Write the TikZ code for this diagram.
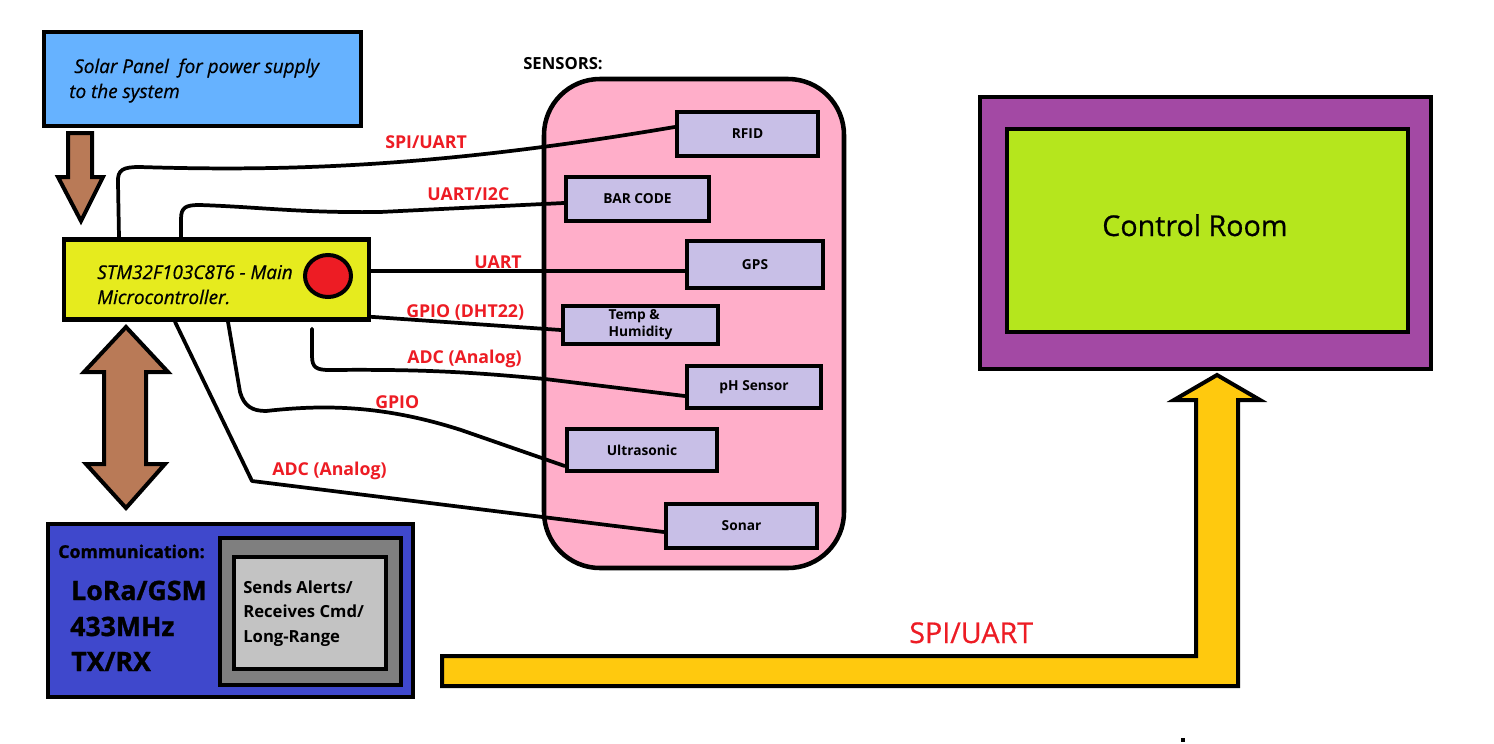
\documentclass[tikz,border=0pt]{standalone}
\usepackage{fontspec}
\setmainfont{Open Sans}
\newfontfamily\medfont[FakeBold=0.6]{Open Sans}
\newfontfamily\heavyfont[FakeBold=1.2]{Open Sans}
\usetikzlibrary{shapes.geometric}
\definecolor{solarblue}{RGB}{102,178,255}
\definecolor{brownarrow}{RGB}{185,122,87}
\definecolor{mcuyellow}{RGB}{230,235,30}
\definecolor{ledred}{RGB}{237,28,36}
\definecolor{commblue}{RGB}{63,72,204}
\definecolor{darkgraybox}{RGB}{127,127,127}
\definecolor{lightgraybox}{RGB}{195,195,195}
\definecolor{sensorpink}{RGB}{255,174,201}
\definecolor{lavender}{RGB}{200,191,231}
\definecolor{roompurple}{RGB}{163,73,164}
\definecolor{roomlime}{RGB}{181,230,29}
\definecolor{busgold}{RGB}{255,201,14}
\definecolor{labelred}{RGB}{237,28,36}
\begin{document}
\begin{tikzpicture}[x=0.75pt,y=-0.75pt,
  box/.style={draw=black, line width=3.4pt, rectangle, inner sep=0pt},
  wh/.style 2 args={minimum width=#1*0.75pt, minimum height=#2*0.75pt},
  sens/.style={box, fill=lavender, font=\fontsize{10.3pt}{12.75pt}\selectfont\bfseries},
  wire/.style={line width=2.8pt, draw=black, line cap=round, line join=round},
  lbl/.style={text=labelred, font=\fontsize{13.3pt}{15pt}\selectfont\bfseries, anchor=base west, inner sep=0pt},
  itxt/.style={font=\fontsize{14.2pt}{16pt}\medfont\itshape, anchor=base west, inner sep=0pt},
  arrowshape/.style={draw=black, line width=3pt, line join=miter}
]
\useasboundingbox (0,0) rectangle (1494,743);
\fill[white] (0,0) rectangle (1494,743);

% Solar panel
\node[box, fill=solarblue, wh={317}{94}] (solar) at (202.5,79) {};
\node[itxt] (solart1) at (74,73) {Solar Panel\ \ for power supply};
\node[itxt] (solart2) at (69,98) {to the system};

% down arrow
\draw[arrowshape, fill=brownarrow] (68,133) -- (92,133) -- (92,177) -- (103,177) -- (81,221) -- (58,177) -- (68,177) -- cycle;

% MCU
\node[box, fill=mcuyellow, wh={305}{80}] (mcu) at (216.5,279.5) {};
\node[itxt] (mcut1) at (97,279) {STM32F103C8T6 - Main};
\node[itxt] (mcut2) at (97,304) {Microcontroller.};
\node[ellipse, draw=black, line width=3pt, fill=ledred, inner sep=0pt, wh={46}{42}] (led) at (328,276) {};

% double arrow
\draw[arrowshape, fill=brownarrow] (126,327) -- (168,372) -- (146,372) -- (146,464) -- (165,464) -- (126,508) -- (86,464) -- (104,464) -- (104,372) -- (84,372) -- cycle;

% Communication
\node[box, fill=commblue, wh={365}{173}] (comm) at (230.5,610.5) {};
\node[box, fill=darkgraybox, wh={181}{147}] (commouter) at (310.5,611.5) {};
\node[box, fill=lightgraybox, wh={152}{112}] (comminner) at (310,613) {};
\node[anchor=base west, inner sep=0pt, font=\fontsize{13.3pt}{15pt}\heavyfont\bfseries] (commt) at (58,558) {Communication:};
\node[anchor=base west, inner sep=0pt, font=\fontsize{20pt}{22pt}\heavyfont\bfseries] (lora) at (71,600) {LoRa/GSM};
\node[anchor=base west, inner sep=0pt, font=\fontsize{20pt}{22pt}\heavyfont\bfseries] (mhz) at (70,636) {433MHz};
\node[anchor=base west, inner sep=0pt, font=\fontsize{20pt}{22pt}\heavyfont\bfseries] (txrx) at (71,671) {TX/RX};
\node[anchor=base west, inner sep=0pt, font=\fontsize{12.5pt}{15pt}\selectfont\bfseries] (alerts1) at (243,593) {Sends Alerts/};
\node[anchor=base west, inner sep=0pt, font=\fontsize{12.5pt}{15pt}\selectfont\bfseries] (alerts2) at (243,617) {Receives Cmd/};
\node[anchor=base west, inner sep=0pt, font=\fontsize{12.5pt}{15pt}\selectfont\bfseries] (alerts3) at (243,642) {Long-Range};

% Sensors
\node[anchor=base west, inner sep=0pt, font=\fontsize{12.5pt}{15pt}\selectfont\bfseries] (senst) at (523,69) {SENSORS:};
\node[draw=black, line width=3.4pt, fill=sensorpink, rounded corners=42pt, wh={300}{489}] (sensors) at (694,323.5) {};
\node[sens, wh={141}{44}] (rfid) at (747.5,134) {RFID};
\node[sens, wh={143}{44}] (bar) at (637.5,199) {BAR CODE};
\node[sens, wh={136}{47}] (gps) at (755,264.5) {GPS};
\node[sens, wh={155}{38}, align=left] (temp) at (640.5,325) {Temp \&\\Humidity};
\node[sens, wh={134}{42}] (ph) at (754,387) {pH Sensor};
\node[sens, wh={150}{42}] (ultra) at (642,450) {Ultrasonic};
\node[sens, wh={151}{44}] (sonar) at (741.5,526) {Sonar};

% Control room
\node[box, fill=roompurple, wh={451}{272}] (room) at (1205.5,233) {};
\node[box, fill=roomlime, wh={401}{203}] (roominner) at (1207.5,230.5) {};
\node[anchor=base west, inner sep=0pt, font=\fontsize{21.5pt}{24pt}\medfont] (roomt) at (1102,236) {Control Room};

% yellow bus arrow
\draw[arrowshape, fill=busgold] (442,656) -- (1196,656) -- (1196,400) -- (1174,400) -- (1217,375) -- (1260,400) -- (1238,400) -- (1238,686) -- (442,686) -- cycle;
\node[anchor=base west, inner sep=0pt, text=labelred, font=\fontsize{21.5pt}{24pt}\medfont] (bust) at (909,643) {SPI/UART};
\fill[black] (1181,738) rectangle (1185,742);

% wires
\draw[wire] (mcu.north -| 119,0) -- (118,183) .. controls (117,169) and (124,167) .. (140,167) .. controls (300,172) and (450,165) .. ([yshift=5.25pt]rfid.west);
\draw[wire] (mcu.north -| 181,0) -- (181,219) .. controls (181,207) and (186,205) .. (200,205) .. controls (260,207) and (300,213) .. (380,212) -- ([yshift=-3pt]bar.west);
\draw[wire] ([yshift=6.4pt]mcu.east) -- ([yshift=-4.9pt]gps.west);
\draw[wire] ([yshift=-28pt]mcu.east) -- ([yshift=-3.75pt]temp.west);
\draw[wire] (mcu.south -| 312,0) ++(0,7) -- (312,356) .. controls (312,368) and (317,370) .. (330,370) .. controls (430,369) and (480,373) .. (545,379) -- ([yshift=-6.75pt]ph.west);
\draw[wire] (mcu.south -| 228,0) -- (240,392) .. controls (244,406) and (252,411) .. (266,411) .. controls (320,405) and (380,404) .. (461,430) -- ([yshift=-12pt]ultra.west);
\draw[wire] (mcu.south -| 175,0) -- (252,481) -- ([yshift=-4.5pt]sonar.west);

% labels
\node[lbl] (l1) at (385,148) {SPI/UART};
\node[lbl] (l2) at (427,200) {UART/I2C};
\node[lbl] (l3) at (474,268) {UART};
\node[lbl] (l4) at (406,317) {GPIO (DHT22)};
\node[lbl] (l5) at (407,363) {ADC (Analog)};
\node[lbl] (l6) at (375,408) {GPIO};
\node[lbl] (l7) at (272,475) {ADC (Analog)};
\end{tikzpicture}
\end{document}
